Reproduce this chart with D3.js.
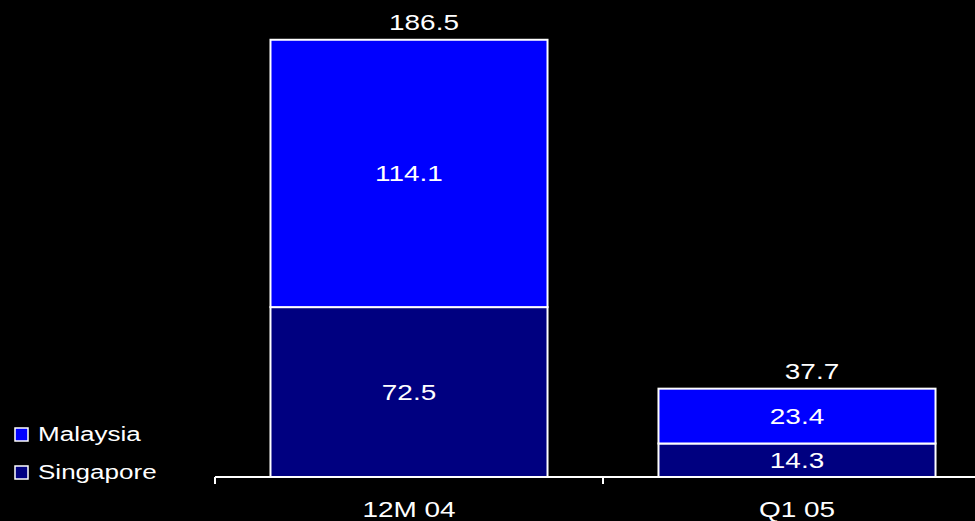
<!DOCTYPE html>
<html><head><meta charset="utf-8">
<script src="https://cdn.jsdelivr.net/npm/d3@7"></script>
<style>html,body{margin:0;padding:0;background:#000;overflow:hidden}</style>
</head><body>
<svg id="c" width="975" height="521"></svg>
<script>
const categories = ["12M 04", "Q1 05"];
const singapore = [72.5, 14.3];
const malaysia = [114.1, 23.4];
const totals = [186.5, 37.7];
const seriesNames = ["Malaysia", "Singapore"];
const colors = {Malaysia: "#0000FF", Singapore: "#000080"};

const svg = d3.select("#c");
svg.append("rect").attr("width", 975).attr("height", 521).attr("fill", "#000");

const font = "'Liberation Sans', Arial, sans-serif";
const SX = 1.27;

const x = d3.scaleBand().domain(categories).range([215, 991]).paddingInner(0.286).paddingOuter(0.143);
const y = d3.scaleLinear().domain([0, 186.5]).range([477, 40]);

const rows = categories.map((c, i) => ({cat: c, Singapore: singapore[i], Malaysia: malaysia[i], total: totals[i]}));
const stack = d3.stack().keys(["Singapore", "Malaysia"])(rows);

function txt(g, px, py, s, size, anchor, baseline, sx) {
  return g.append("text")
    .attr("transform", `translate(${px},${py}) scale(${sx || SX},1)`)
    .attr("text-anchor", anchor || "middle")
    .attr("dominant-baseline", baseline || "auto")
    .attr("font-family", font).attr("font-size", size).attr("fill", "#fff").text(s);
}

const g = svg.append("g");
stack.forEach(layer => {
  layer.forEach((d, i) => {
    g.append("rect")
      .attr("x", x(categories[i])).attr("width", x.bandwidth())
      .attr("y", y(d[1])).attr("height", y(d[0]) - y(d[1]))
      .attr("fill", colors[layer.key]).attr("stroke", "#fff").attr("stroke-width", 2);
    const v = d[1] - d[0];
    txt(g, x(categories[i]) + x.bandwidth() / 2, (y(d[0]) + y(d[1])) / 2, v.toFixed(1), 22, "middle", "central");
  });
});

// totals
rows.forEach((r, i) => {
  txt(g, x(r.cat) + x.bandwidth() / 2 + 15, y(r.total) - 10, r.total.toFixed(1), 22, "middle");
});

// axis
const ax = svg.append("g");
ax.append("line").attr("x1", 215).attr("x2", 991).attr("y1", y(0)).attr("y2", y(0)).attr("stroke", "#fff").attr("stroke-width", 2);
const tickPos = categories.map(c => x(c) - x.step() * x.paddingInner() / 2).concat([991]);
tickPos.forEach(t => {
  ax.append("line").attr("x1", t).attr("x2", t).attr("y1", y(0)).attr("y2", y(0) + 7).attr("stroke", "#fff").attr("stroke-width", 2);
});
categories.forEach(c => {
  txt(ax, x(c) + x.bandwidth() / 2, 517, c, 22, "middle");
});

// legend
const lg = svg.append("g");
seriesNames.forEach((n, i) => {
  const yy = 428 + i * 38;
  lg.append("rect").attr("x", 15).attr("y", yy).attr("width", 13).attr("height", 13)
    .attr("fill", colors[n]).attr("stroke", "#fff").attr("stroke-width", 1.5);
  txt(lg, 38, yy + 12.5, n, 21, "start", "auto", 1.24);
});
</script>
</body></html>
